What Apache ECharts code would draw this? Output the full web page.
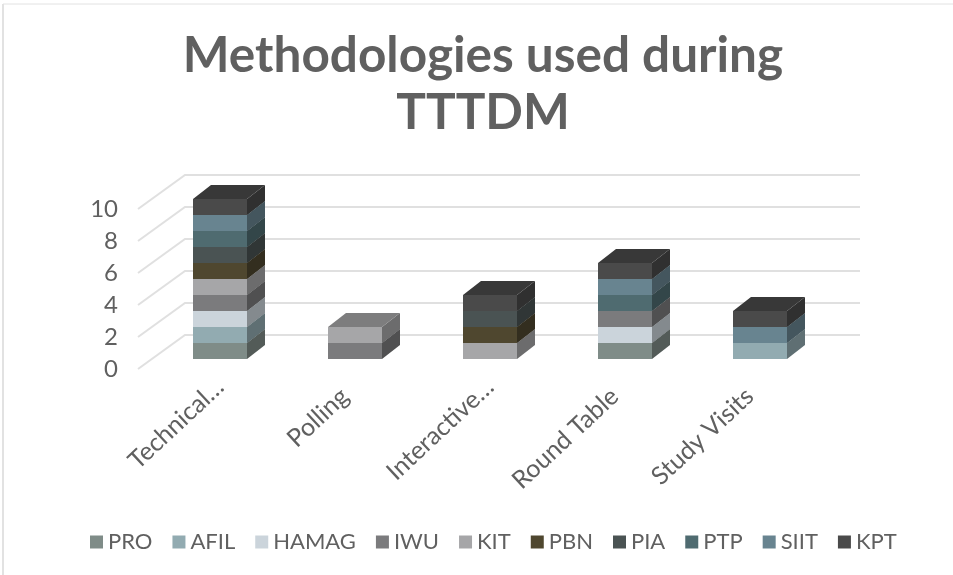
<!DOCTYPE html>
<html>
<head>
<meta charset="utf-8">
<style>
	html, body { margin: 0; padding: 0; background: #fff; }
	#chart { width: 953px; height: 575px; }
</style>
<script src="https://cdn.jsdelivr.net/npm/echarts@6/dist/echarts.min.js"></script>
</head>
<body>
<div id="chart"></div>
<script>
const categories = ['Technical…', 'Polling', 'Interactive…', 'Round Table', 'Study Visits']
const seriesNames = ['PRO', 'AFIL', 'HAMAG', 'IWU', 'KIT', 'PBN', 'PIA', 'PTP', 'SIIT', 'KPT']
const yTicks = [0, 2, 4, 6, 8, 10]

const pro = [1, 0, 0, 1, 0]
const afil = [1, 0, 0, 0, 1]
const hamag = [1, 0, 0, 1, 0]
const iwu = [1, 1, 0, 1, 0]
const kit = [1, 1, 1, 0, 0]
const pbn = [1, 0, 1, 0, 0]
const pia = [1, 0, 1, 0, 0]
const ptp = [1, 0, 0, 1, 0]
const siit = [1, 0, 0, 1, 1]
const kpt = [1, 0, 1, 1, 1]
const seriesValues = [pro, afil, hamag, iwu, kit, pbn, pia, ptp, siit, kpt]

const colors = ['#7f8c88', '#92abb1', '#cbd4db', '#7b7b7d', '#a6a6a8', '#4f472f', '#4a5353', '#4f6b70', '#688490', '#4a4a4a']

const textColor = '#606060'
const fontFamily = 'Lato, sans-serif'

// depth of the bars and of the floor, in pixels
const barDepthX = 18
const barDepthY = 14
const wallDepthX = 47
const wallDepthY = 34

function darken(color, factor) {
	const rgb = echarts.color.parse(color)
	return 'rgb(' + rgb.slice(0, 3).map((c) => Math.round(c * factor)).join(',') + ')'
}

const stackTotals = categories.map(() => 0)

function buildSeries(name, i) {
	const data = []
	seriesValues[i].forEach((value, catIndex) => {
		if (!value) return
		data.push([catIndex, stackTotals[catIndex], stackTotals[catIndex] + value])
		stackTotals[catIndex] += value
	})

	const front = colors[i]
	const top = darken(front, 0.75)
	const side = darken(front, 0.65)

	return {
		name: name,
		type: 'custom',
		xAxisIndex: 1,
		yAxisIndex: 1,
		z: 5,
		itemStyle: { color: front },
		data: data,
		renderItem(params, api) {
			const bottomPoint = api.coord([api.value(0), api.value(1)])
			const topPoint = api.coord([api.value(0), api.value(2)])
			const width = api.size([1, 0])[0] * 0.4
			const x0 = bottomPoint[0] - width / 2
			const x1 = bottomPoint[0] + width / 2
			const y0 = bottomPoint[1]
			const y1 = topPoint[1]
			return {
				type: 'group',
				children: [
					{
						type: 'polygon',
						shape: { points: [[x1, y0], [x1 + barDepthX, y0 - barDepthY], [x1 + barDepthX, y1 - barDepthY], [x1, y1]] },
						style: { fill: side }
					},
					{
						type: 'polygon',
						shape: { points: [[x0, y1], [x1, y1], [x1 + barDepthX, y1 - barDepthY], [x0 + barDepthX, y1 - barDepthY]] },
						style: { fill: top }
					},
					{
						type: 'rect',
						shape: { x: x0, y: y1, width: width, height: y0 - y1 },
						style: { fill: front }
					}
				]
			}
		}
	}
}

const barSeries = seriesNames.map(buildSeries)

// floor diagonals and back wall lines, one per tick
const wallSeries = {
	type: 'custom',
	xAxisIndex: 0,
	yAxisIndex: 0,
	z: 1,
	silent: true,
	data: yTicks.map((tick) => [0, tick]),
	renderItem(params, api) {
		const p = api.coord([0, api.value(1)])
		const x0 = params.coordSys.x
		const x1 = x0 + params.coordSys.width
		return {
			type: 'polyline',
			shape: { points: [[x0, p[1]], [x0 + wallDepthX, p[1] - wallDepthY], [x1 + wallDepthX, p[1] - wallDepthY]] },
			style: { stroke: '#e0e0e0', lineWidth: 2, fill: 'none' }
		}
	}
}

// truncated labels sit a little closer to their bars
const categoryItems = categories.map((name) => ({
	value: name,
	textStyle: { padding: name.endsWith('…') ? [0, 0, 0, 0] : [0, 14, 0, 0] }
}))

const chart = echarts.init(document.getElementById('chart'))

chart.setOption({
	backgroundColor: '#fff',
	animation: false,
	title: {
		text: 'Methodologies used during\nTTTDM',
		left: 478,
		top: 23,
		textAlign: 'center',
		textStyle: {
			color: textColor,
			fontFamily: fontFamily,
			fontWeight: 'bold',
			fontSize: 49.5,
			lineHeight: 57
		}
	},
	legend: {
		data: seriesNames,
		left: 85,
		top: 526,
		itemWidth: 13,
		itemHeight: 13,
		itemGap: 20,
		icon: 'rect',
		textStyle: { color: textColor, fontFamily: fontFamily, fontSize: 22, padding: [0, 0, 0, 0] }
	},
	graphic: [
		{ type: 'line', shape: { x1: 3, y1: 4, x2: 953, y2: 4 }, style: { stroke: '#e2e2e2', lineWidth: 1 } },
		{ type: 'line', shape: { x1: 3, y1: 4, x2: 3, y2: 575 }, style: { stroke: '#e2e2e2', lineWidth: 2 } }
	],
	grid: [
		{ left: 138, top: 209, width: 675, height: 160 },
		{ left: 152.5, top: 199, width: 675, height: 160 }
	],
	xAxis: [
		{ gridIndex: 0, type: 'category', data: categories, show: false },
		{
			gridIndex: 1,
			type: 'category',
			data: categoryItems,
			axisLine: { show: false },
			axisTick: { show: false },
			axisLabel: {
				rotate: 43,
				margin: 24,
				interval: 0,
				color: textColor,
				fontFamily: fontFamily,
				fontSize: 25
			}
		}
	],
	yAxis: [
		{
			gridIndex: 0,
			type: 'value',
			min: 0,
			max: 10,
			interval: 2,
			axisLine: { show: false },
			axisTick: { show: false },
			splitLine: { show: false },
			axisLabel: { margin: 20, padding: [2, 0, 0, 0], color: textColor, fontFamily: fontFamily, fontSize: 24 }
		},
		{ gridIndex: 1, type: 'value', min: 0, max: 10, interval: 2, show: false, splitLine: { show: false } }
	],
	series: [wallSeries].concat(barSeries)
})
</script>
</body>
</html>
